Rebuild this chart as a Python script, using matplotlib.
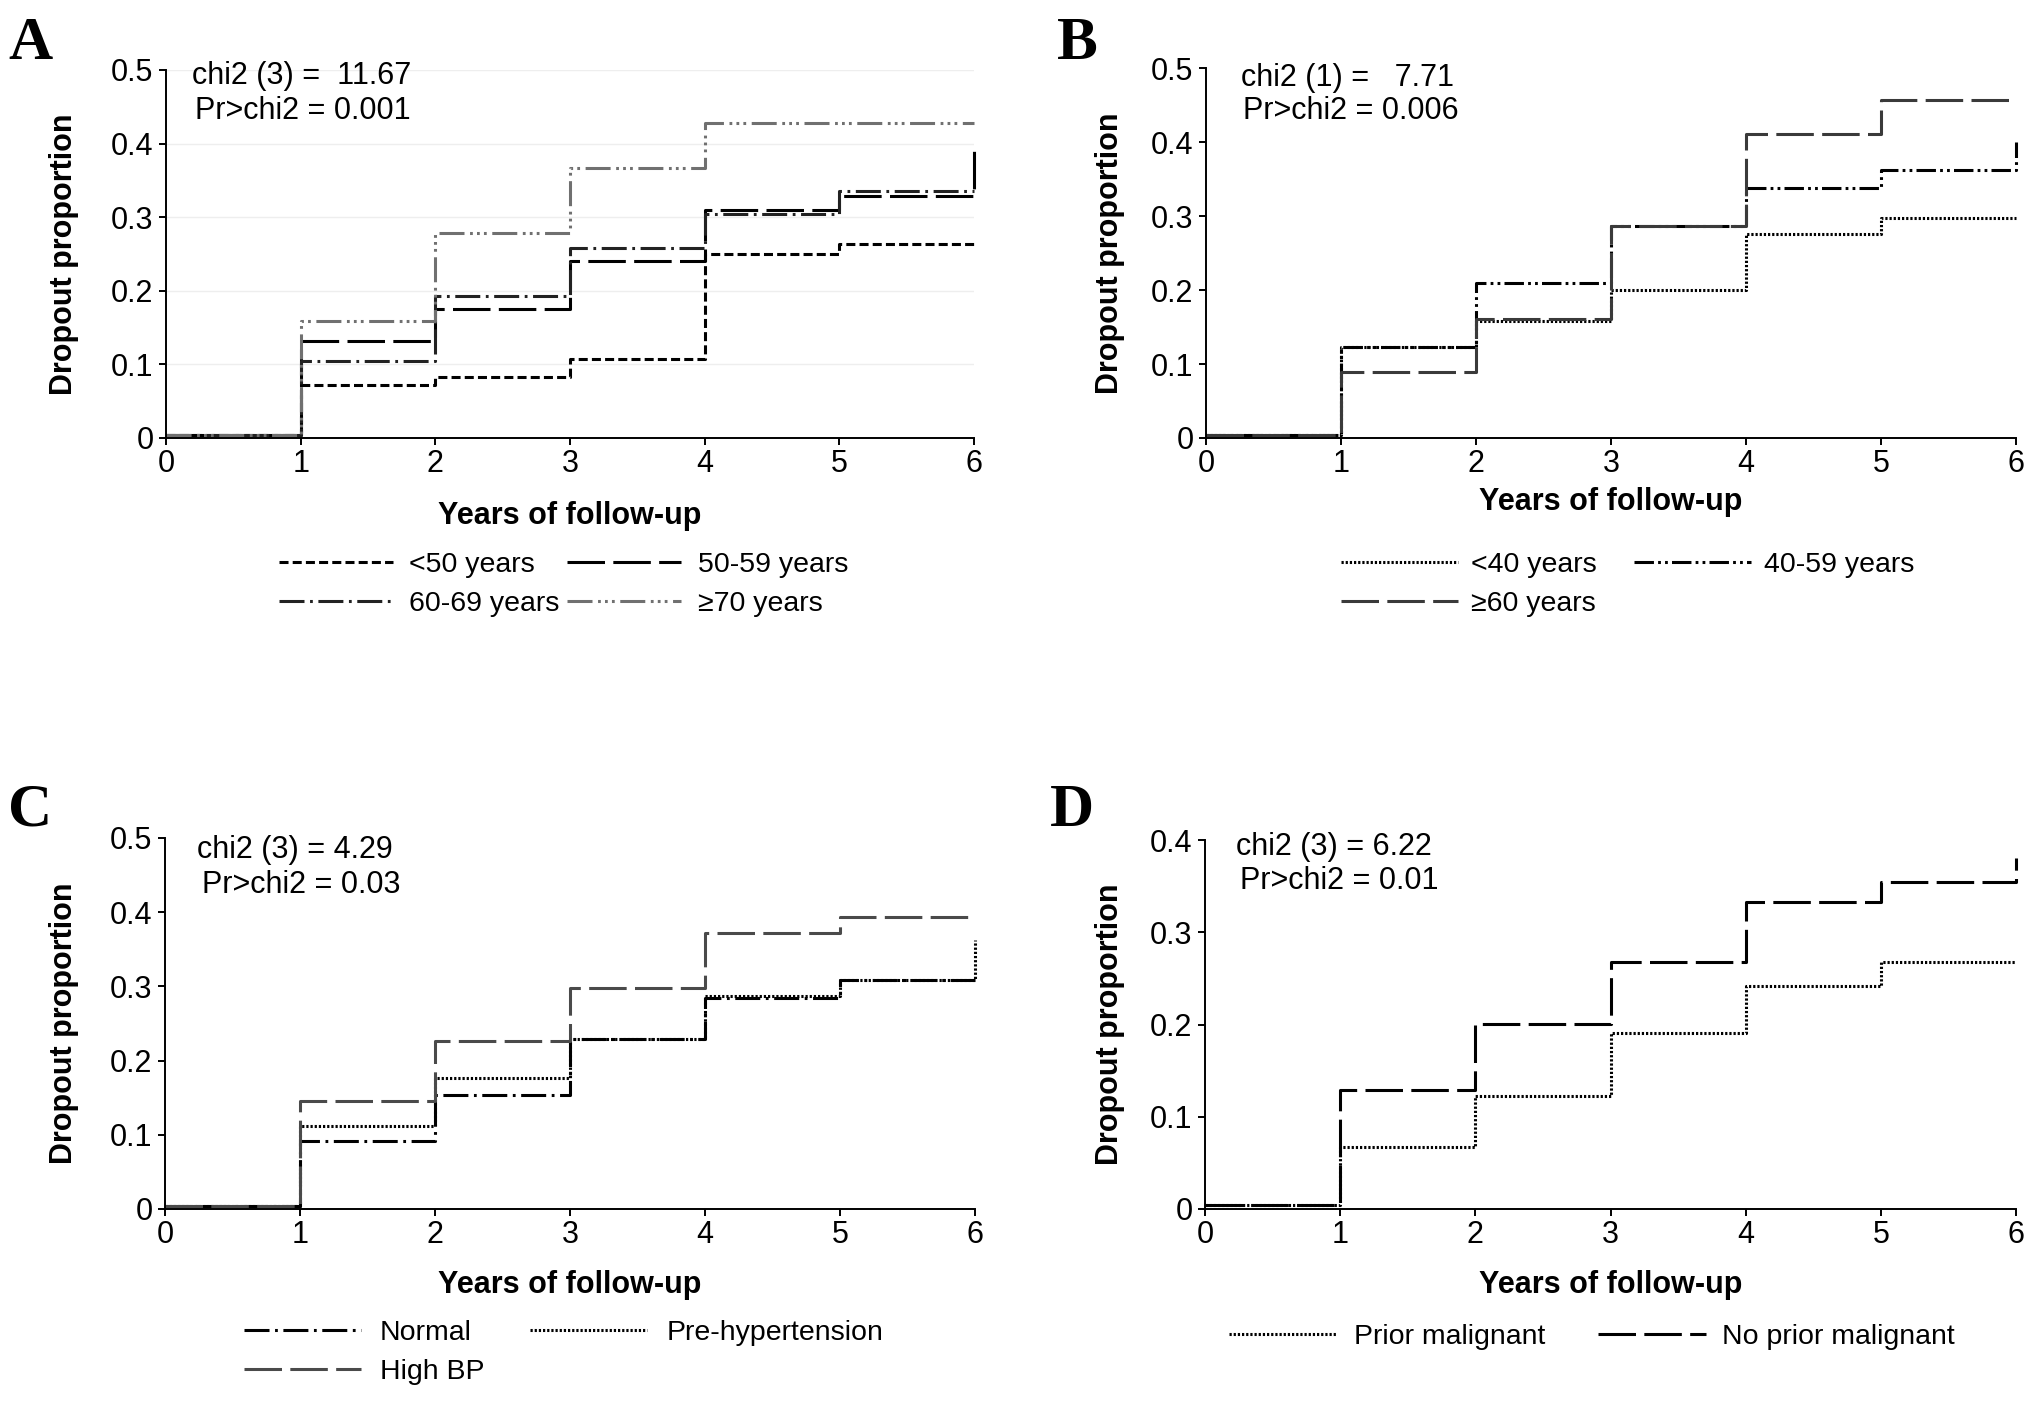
import matplotlib

matplotlib.use("Agg")
import matplotlib.pyplot as plt

plt.rcParams["font.family"] = ["Liberation Sans", "DejaVu Sans"]
plt.rcParams["lines.scale_dashes"] = False

years = [0, 1, 2, 3, 4, 5, 6]

# panel A: age groups
a_labels = ["<50 years", "50-59 years", "60-69 years", "≥70 years"]
a_lt50 = [0.004, 0.072, 0.083, 0.107, 0.250, 0.263, 0.263]
a_50_59 = [0.004, 0.132, 0.175, 0.241, 0.310, 0.329, 0.394]
a_60_69 = [0.004, 0.104, 0.193, 0.258, 0.304, 0.336, 0.336]
a_ge70 = [0.004, 0.159, 0.279, 0.367, 0.428, 0.428, 0.428]

# panel B: age at start
b_labels = ["<40 years", "40-59 years", "≥60 years"]
b_lt40 = [0.004, 0.123, 0.158, 0.200, 0.276, 0.297, 0.297]
b_40_59 = [0.004, 0.123, 0.209, 0.287, 0.338, 0.362, 0.400]
b_ge60 = [0.004, 0.089, 0.161, 0.286, 0.411, 0.457, 0.457]

# panel C: blood pressure
c_labels = ["Normal", "Pre-hypertension", "High BP"]
c_normal = [0.004, 0.091, 0.153, 0.229, 0.285, 0.308, 0.308]
c_prehyp = [0.004, 0.112, 0.176, 0.229, 0.287, 0.309, 0.362]
c_high = [0.004, 0.145, 0.227, 0.298, 0.372, 0.394, 0.394]

# panel D: malignancy
d_labels = ["Prior malignant", "No prior malignant"]
d_prior = [0.004, 0.067, 0.122, 0.191, 0.242, 0.268, 0.268]
d_noprior = [0.004, 0.129, 0.201, 0.268, 0.333, 0.355, 0.381]

stats = {
    "A": ("chi2 (3) =  11.67", "Pr>chi2 = 0.001"),
    "B": ("chi2 (1) =   7.71", "Pr>chi2 = 0.006"),
    "C": ("chi2 (3) = 4.29", "Pr>chi2 = 0.03"),
    "D": ("chi2 (3) = 6.22", "Pr>chi2 = 0.01"),
}

SHORT = (6.5, 3)
LONG = (27, 6)
DASHDOT = (18, 4, 2, 4)
DASHDOTDOT = (18, 4, 2, 3, 2, 3, 2, 4)
DDOT = (14, 3, 2, 3, 2, 3)
DOTTED = (1.6, 1.4)

W, H = 2031, 1401
fig = plt.figure(figsize=(W / 100, H / 100), dpi=100)


def px_axes(x0, x1, y_top, y_bot):
    return fig.add_axes([x0 / W, 1 - y_bot / H, (x1 - x0) / W, (y_bot - y_top) / H])


def style(ax, ymax, xlab_y, ylab_x, grid=False):
    n = int(round(ymax * 10))
    ax.set_xlim(0, 6)
    ax.set_ylim(0, ymax)
    ax.set_xticks(range(7))
    ax.set_yticks([round(v * 0.1, 1) for v in range(n + 1)])
    ax.set_yticklabels(["0" if v == 0 else f"{v * 0.1:.1f}" for v in range(n + 1)])
    for s in ["top", "right"]:
        ax.spines[s].set_visible(False)
    for s in ["left", "bottom"]:
        ax.spines[s].set_linewidth(1.4)
    ax.tick_params(direction="out", length=5, width=1.4, labelsize=22)
    ax.tick_params(axis="x", pad=3)
    ax.tick_params(axis="y", pad=4)
    if grid:
        ax.yaxis.grid(True, color="#eeeeee", lw=1)
        ax.set_axisbelow(True)
    ax.set_xlabel("Years of follow-up", fontsize=22, fontweight="bold")
    ax.set_ylabel("Dropout proportion", fontsize=22, fontweight="bold")
    ax.xaxis.set_label_coords(0.5, xlab_y)
    ax.xaxis.label.set_va("center")
    ax.yaxis.set_label_coords(ylab_x, 0.5)
    ax.yaxis.label.set_va("center")


def curve(ax, vals, label, dashes, color="black"):
    ax.plot(years, vals, drawstyle="steps-post", color=color, lw=2.2,
            dashes=dashes, label=label, clip_on=False)


def stat_text(ax, key, p1, p2):
    ax.text(p1[0], p1[1], stats[key][0], transform=ax.transAxes, fontsize=22, va="center", ha="left")
    ax.text(p2[0], p2[1], stats[key][1], transform=ax.transAxes, fontsize=22, va="center", ha="left")


def legend(ax, x, y, hl, htp, cs, order, ls=0.47):
    handles, labels = ax.get_legend_handles_labels()
    ax.legend([handles[i] for i in order], [labels[i] for i in order],
              loc="upper left", bbox_to_anchor=(x / W, 1 - y / H), bbox_transform=fig.transFigure,
              ncol=2, frameon=False, fontsize=20.5, handlelength=hl, handletextpad=htp,
              columnspacing=cs, labelspacing=ls, borderpad=0, borderaxespad=0)


def letter(x, y, s):
    fig.text(x / W, 1 - y / H, s, fontsize=44, fontweight="bold", va="top", ha="left",
             family=["Liberation Serif", "DejaVu Serif"])


# A
ax_a = px_axes(166, 974, 70, 438)
curve(ax_a, a_lt50, a_labels[0], SHORT)
curve(ax_a, a_50_59, a_labels[1], LONG)
curve(ax_a, a_60_69, a_labels[2], DASHDOT, "#222222")
curve(ax_a, a_ge70, a_labels[3], DASHDOTDOT, "#707070")
style(ax_a, 0.5, -63 / 368 - 0.04, -102 / 808, grid=True)
stat_text(ax_a, "A", (0.032, 0.984), (0.036, 0.889))
legend(ax_a, 279, 552, 4.0, 0.58, 0.27, [0, 2, 1, 3])
letter(8, 16, "A")

# B
ax_b = px_axes(1206, 2016, 68, 438)
curve(ax_b, b_lt40, b_labels[0], DOTTED)
curve(ax_b, b_40_59, b_labels[1], DDOT)
curve(ax_b, b_ge60, b_labels[2], LONG, "#3a3a3a")
style(ax_b, 0.5, -64 / 370, -96 / 810)
stat_text(ax_b, "B", (0.043, 0.973), (0.046, 0.884))
legend(ax_b, 1341, 552, 4.1, 0.47, 1.3, [0, 2, 1])
letter(1057, 16, "B")

# C
ax_c = px_axes(165, 975, 838, 1209)
curve(ax_c, c_normal, c_labels[0], DASHDOT)
curve(ax_c, c_prehyp, c_labels[1], DOTTED)
curve(ax_c, c_high, c_labels[2], LONG, "#4a4a4a")
style(ax_c, 0.5, -76 / 371, -101 / 810)
stat_text(ax_c, "C", (0.040, 0.968), (0.046, 0.873))
legend(ax_c, 244, 1320, 4.1, 0.68, 1.6, [0, 2, 1])
letter(8, 783, "C")

# D
ax_d = px_axes(1205, 2016, 840, 1209)
curve(ax_d, d_prior, d_labels[0], DOTTED)
curve(ax_d, d_noprior, d_labels[1], LONG)
style(ax_d, 0.4, -76 / 369, -95 / 811)
stat_text(ax_d, "D", (0.038, 0.981), (0.043, 0.889))
legend(ax_d, 1229, 1324, 3.8, 0.58, 1.85, [0, 1])
letter(1050, 783, "D")

fig.savefig("out.png", dpi=100)
